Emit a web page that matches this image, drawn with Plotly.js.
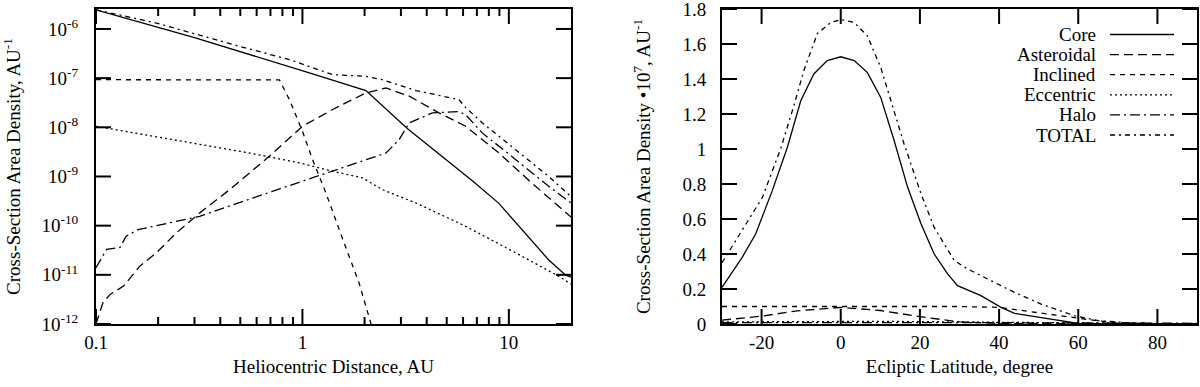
<!DOCTYPE html>
<html>
<head>
<meta charset="utf-8">
<script src="https://cdn.plot.ly/plotly-3.0.1.min.js"></script>
<style>
  html, body { margin: 0; padding: 0; background: #fff; }
  .panel { width: 600px; height: 387px; float: left; }
</style>
</head>
<body>
<div id="helio" class="panel"></div>
<div id="lat" class="panel"></div>
<script>
// ---- left panel: density vs heliocentric distance (AU), log-log ----
var coreAU   = [0.1, 0.3, 1.08, 2.03, 3.22, 6.63, 8.95, 12.9, 15.6, 18.8, 20];
var coreVal  = [2.45e-6, 6.7e-7, 1.28e-7, 5.6e-8, 9.5e-9, 8.3e-10, 2.84e-10, 5.1e-11, 2.0e-11, 9.9e-12, 9e-12];

var astAU    = [0.1, 0.108, 0.117, 0.136, 0.163, 0.196, 0.245, 0.318, 0.444, 0.693, 1.0, 1.4, 2.03, 2.54, 3.29, 4.59, 6.18, 8.95, 12.9, 20];
var astVal   = [1.0e-12, 2.7e-12, 4.0e-12, 5.9e-12, 1.5e-11, 2.8e-11, 7.1e-11, 1.82e-10, 5.4e-10, 2.6e-9, 1.05e-8, 2.3e-8, 5.0e-8, 6.3e-8, 4.3e-8, 1.96e-8, 1.05e-8, 3.0e-9, 7.4e-10, 1.5e-10];

var incAU    = [0.1, 0.774, 0.865, 1.0, 1.12, 1.30, 1.57, 1.88, 2.15];
var incVal   = [9.3e-8, 9.2e-8, 3.66e-8, 8.3e-9, 2.2e-9, 4.6e-10, 5.2e-11, 6.9e-12, 1.0e-12];

var eccAU    = [0.1, 0.285, 0.555, 0.964, 1.40, 1.95, 2.44, 3.54, 6.18, 10.8, 17.4, 20];
var eccVal   = [1.05e-8, 4.8e-9, 3.0e-9, 1.9e-9, 1.28e-9, 9.4e-10, 5.4e-10, 2.9e-10, 9.7e-11, 2.8e-11, 9.4e-12, 6.5e-12];

var haloAU   = [0.1, 0.1126, 0.1306, 0.14, 0.16, 0.196, 0.318, 0.746, 1.08, 1.4, 2.54, 2.94, 3.29, 4.26, 5.73, 6.18, 7.43, 10.8, 15.6, 20];
var haloVal  = [1.39e-11, 3.3e-11, 3.6e-11, 6.1e-11, 8.3e-11, 1.0e-10, 1.55e-10, 5.3e-10, 8.9e-10, 1.29e-9, 3.0e-9, 5.6e-9, 1.23e-8, 1.96e-8, 2.1e-8, 1.8e-8, 7.7e-9, 2.2e-9, 6.3e-10, 2.9e-10];

var totAU    = [0.1, 0.196, 0.496, 0.865, 1.4, 2.03, 2.43, 3.54, 5.73, 6.18, 7.41, 10.8, 15.6, 20];
var totVal   = [2.45e-6, 1.32e-6, 4.43e-7, 2.38e-7, 1.18e-7, 1.09e-7, 9.3e-8, 5.6e-8, 3.66e-8, 2.51e-8, 1.25e-8, 3.5e-9, 1.0e-9, 3.9e-10];

var helioTicks    = [0.1, 1, 10];
var helioTickText = ['0.1', '1', '10'];
var helioMinor    = [0.2, 0.3, 0.4, 0.5, 0.6, 0.7, 0.8, 0.9, 2, 3, 4, 5, 6, 7, 8, 9];
var densTicks     = [1e-12, 1e-11, 1e-10, 1e-9, 1e-8, 1e-7, 1e-6];
var densTickText  = ['10<sup>-12</sup>', '10<sup>-11</sup>', '10<sup>-10</sup>', '10<sup>-9</sup>',
                     '10<sup>-8</sup>', '10<sup>-7</sup>', '10<sup>-6</sup>'];

// ---- right panel: density (x1e7) vs ecliptic latitude ----
var coreLat  = [-30, -24.9, -21.5, -17.3, -13.5, -10.1, -6.8, -3.4, 0, 3.4, 6.7, 10.1, 13.5, 16.9, 20.3, 23.6, 27, 29.5, 35.4, 40.5, 43.9, 52.3, 57.4, 60, 90];
var coreLatV = [0.209, 0.381, 0.514, 0.762, 1.009, 1.276, 1.429, 1.505, 1.527, 1.505, 1.438, 1.295, 1.047, 0.781, 0.571, 0.400, 0.286, 0.219, 0.162, 0.095, 0.061, 0.029, 0.009, 0.003, 0];

var astLat   = [-30, -20, -11, 0, 10, 20, 30, 40, 90];
var astLatV  = [0.022, 0.045, 0.075, 0.095, 0.077, 0.042, 0.012, 0.003, 0];

var incLat   = [-30, -20, -10, 0, 10, 20, 30, 40, 45, 50, 55, 60, 65, 70, 75, 80, 90];
var incLatV  = [0.1, 0.1, 0.098, 0.097, 0.098, 0.1, 0.1, 0.095, 0.08, 0.065, 0.05, 0.035, 0.018, 0.008, 0.003, 0.001, 0];

var eccLat   = [-30, -10, 0, 10, 30, 50, 60, 70, 90];
var eccLatV  = [0.012, 0.015, 0.016, 0.015, 0.012, 0.008, 0.005, 0.002, 0];

var haloLat  = [-30, 0, 30, 60, 90];
var haloLatV = [0.008, 0.009, 0.008, 0.006, 0.004];

var totLat   = [-30, -27, -24.1, -19.8, -15.2, -11.8, -9.3, -5.9, -2.5, 0, 3.4, 6.7, 10.1, 13.5, 16, 20.3, 23.6, 28.7, 32.1, 38, 43.9, 50.6, 59.1, 65, 71.7, 80, 90];
var totLatV  = [0.35, 0.46, 0.571, 0.723, 1.0, 1.25, 1.45, 1.66, 1.723, 1.739, 1.723, 1.647, 1.466, 1.219, 1.029, 0.743, 0.552, 0.362, 0.314, 0.247, 0.181, 0.114, 0.047, 0.019, 0.009, 0.002, 0];

var latTicks    = [-20, 0, 20, 40, 60, 80];
var latTickText = ['-20', '0', '20', '40', '60', '80'];
var relTicks    = [0, 0.2, 0.4, 0.6, 0.8, 1, 1.2, 1.4, 1.6, 1.8];
var relTickText = ['0', '0.2', '0.4', '0.6', '0.8', '1', '1.2', '1.4', '1.6', '1.8'];

var seriesNames = ['Core', 'Asteroidal', 'Inclined', 'Eccentric', 'Halo', 'TOTAL'];

// line styles, same order as the names
var dashes = ['solid', '9px,5px', '5px,5px', '2px,3px', '10px,4px,2px,4px', '5px,4px,2px,4px'];

var leftX  = [coreAU, astAU, incAU, eccAU, haloAU, totAU];
var leftY  = [coreVal, astVal, incVal, eccVal, haloVal, totVal];
var rightX = [coreLat, astLat, incLat, eccLat, haloLat, totLat];
var rightY = [coreLatV, astLatV, incLatV, eccLatV, haloLatV, totLatV];

// axis ranges (log axes in decades)
var helioRange = [-1, Math.log10(20)];
var densRange  = [-12, -5.594];
var latRange   = [-30, 90];
var relRange   = [0, 1.8];

// plot area size of each panel, px
var plotW = 475, plotH = 315;

function curve(x, y, dash) {
    return {
        type: 'scatter', mode: 'lines', x: x, y: y,
        line: { color: 'black', width: 1.3, dash: dash },
        showlegend: false, hoverinfo: 'skip'
    };
}

var leftData = [], rightData = [];
for (var i = 0; i < seriesNames.length; i++) {
    leftData.push(curve(leftX[i], leftY[i], dashes[i]));
    rightData.push(curve(rightX[i], rightY[i], dashes[i]));
}

function serif() {
    return { family: 'Liberation Serif, Times New Roman, serif', size: 19, color: 'black' };
}

// thick frame; the tick marks are added as shapes below
function frame(extra) {
    var ax = {
        showline: true, linewidth: 2, linecolor: 'black', mirror: true,
        ticks: '', showgrid: false, zeroline: false, tickfont: serif(),
        ticklabeloverflow: 'allow'
    };
    for (var k in extra) ax[k] = extra[k];
    return ax;
}

// fraction of the plot area for an axis value
function frac(v, range, isLog) {
    var t = isLog ? Math.log10(v) : v;
    return (t - range[0]) / (range[1] - range[0]);
}

// inside ticks on both sides of the frame, in paper coordinates
function tickMarks(xVals, xRange, xLog, xLen, yVals, yRange, yLog, yLen) {
    var out = [];
    var st = { color: 'black', width: 2 };
    var dy = xLen / plotH, dx = yLen / plotW;
    xVals.forEach(function (v) {
        var f = frac(v, xRange, xLog);
        out.push({ type: 'line', xref: 'paper', yref: 'paper', x0: f, x1: f, y0: 0, y1: dy, line: st });
        out.push({ type: 'line', xref: 'paper', yref: 'paper', x0: f, x1: f, y0: 1 - dy, y1: 1, line: st });
    });
    yVals.forEach(function (v) {
        var f = frac(v, yRange, yLog);
        out.push({ type: 'line', xref: 'paper', yref: 'paper', x0: 0, x1: dx, y0: f, y1: f, line: st });
        out.push({ type: 'line', xref: 'paper', yref: 'paper', x0: 1 - dx, x1: 1, y0: f, y1: f, line: st });
    });
    return out;
}

var leftShapes = tickMarks(helioTicks, helioRange, true, 15, densTicks, densRange, true, 15)
    .concat(tickMarks(helioMinor, helioRange, true, 7, [], densRange, true, 0));
var rightShapes = tickMarks(latTicks, latRange, false, 15, relTicks, relRange, false, 15);

// hand-made legend in the top right corner (text first, then the line sample)
var annotations = [];
for (var j = 0; j < seriesNames.length; j++) {
    var yy = (324 - (34.5 + 20.1 * j)) / 315;
    annotations.push({
        xref: 'paper', yref: 'paper', x: (1098 - 722) / 475, y: yy,
        xanchor: 'right', yanchor: 'middle', showarrow: false,
        text: seriesNames[j], font: serif()
    });
    rightShapes.push({
        type: 'line', xref: 'paper', yref: 'paper',
        x0: (1110 - 722) / 475, x1: (1174 - 722) / 475, y0: yy, y1: yy,
        line: { color: 'black', width: 1.3, dash: dashes[j] }
    });
}

var leftLayout = {
    width: 600, height: 387, showlegend: false,
    margin: { l: 96, r: 29, t: 9, b: 63 },
    paper_bgcolor: 'white', plot_bgcolor: 'white',
    xaxis: frame({
        type: 'log', range: helioRange,
        tickvals: helioTicks, ticktext: helioTickText,
        title: { text: 'Heliocentric Distance, AU', font: serif(), standoff: 8 }
    }),
    yaxis: frame({
        type: 'log', range: densRange,
        tickvals: densTicks, ticktext: densTickText, ticklabelstandoff: 12,
        title: { text: 'Cross-Section Area Density, AU<sup>-1</sup>', font: serif(), standoff: 16 }
    }),
    shapes: leftShapes
};

var rightLayout = {
    width: 600, height: 387, showlegend: false,
    margin: { l: 122, r: 3, t: 9, b: 63 },
    paper_bgcolor: 'white', plot_bgcolor: 'white',
    xaxis: frame({
        range: latRange,
        tickvals: latTicks, ticktext: latTickText,
        title: { text: 'Ecliptic Latitude, degree', font: serif(), standoff: 8 }
    }),
    yaxis: frame({
        range: relRange,
        tickvals: relTicks, ticktext: relTickText, ticklabelstandoff: 10,
        title: { text: 'Cross-Section Area Density \u202210<sup>7</sup>, AU<sup>-1</sup>', font: serif(), standoff: 27 }
    }),
    annotations: annotations,
    shapes: rightShapes
};

var config = { staticPlot: true };
Plotly.newPlot('helio', leftData, leftLayout, config);
Plotly.newPlot('lat', rightData, rightLayout, config);
</script>
</body>
</html>
